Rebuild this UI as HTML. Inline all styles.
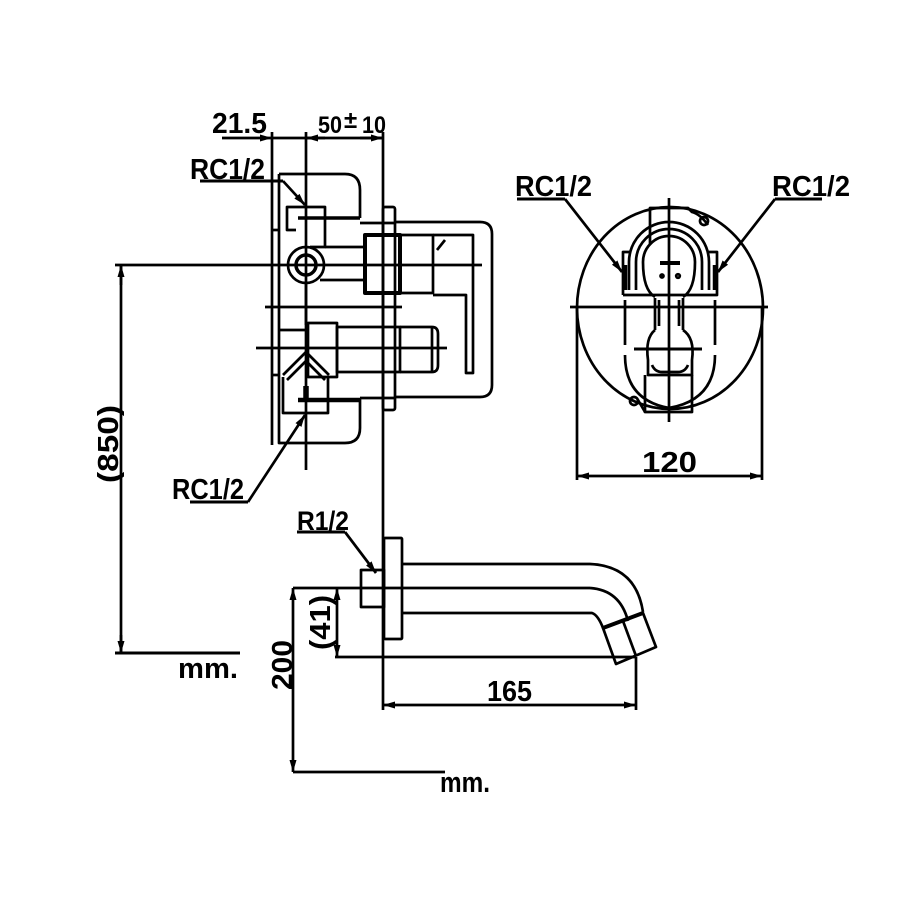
<!DOCTYPE html>
<html><head><meta charset="utf-8"><style>
html,body{margin:0;padding:0;background:#fff;}
svg{display:block;}
text{font-family:"Liberation Sans",sans-serif;font-weight:bold;fill:#000;}
</style></head><body>
<svg width="900" height="900" viewBox="0 0 900 900" xmlns="http://www.w3.org/2000/svg">
<defs>
<marker id="a" markerWidth="12" markerHeight="7" refX="12" refY="3.5" orient="auto" markerUnits="userSpaceOnUse"><path d="M0,0 L12,3.5 L0,7 Z" fill="#000"/></marker>
</defs>
<g fill="none" stroke="#000" stroke-width="2.7" stroke-linejoin="round">
<!-- top dims -->
<line x1="222" y1="138" x2="272" y2="138" marker-end="url(#a)"/>
<line x1="272" y1="138" x2="383" y2="138"/>
<line x1="325" y1="138" x2="306" y2="138" marker-end="url(#a)"/>
<line x1="360" y1="138" x2="383" y2="138" marker-end="url(#a)"/>
<line x1="272" y1="132" x2="272" y2="445"/>
<line x1="306" y1="132" x2="306" y2="470"/>
<line x1="383" y1="132" x2="383" y2="710"/>
<!-- RC1/2 top leader -->
<line x1="200" y1="181" x2="283" y2="181" stroke-width="3"/>
<line x1="283" y1="181" x2="305" y2="205" marker-end="url(#a)"/>
<!-- back body outline -->
<path d="M279 174 H345 Q360 174 360 190 V218"/>
<path d="M279 174 V443 H345 Q360 443 360 428 V398"/>
<line x1="272" y1="230" x2="279" y2="230"/>
<line x1="272" y1="375" x2="279" y2="375"/>
<!-- top port -->
<path d="M296 230 H287 V207 H325 V247 H310"/>
<line x1="298" y1="218" x2="360" y2="218" stroke-width="3.5"/>
<line x1="360" y1="223" x2="395" y2="223"/>
<line x1="325" y1="247" x2="363" y2="247"/>
<circle cx="306" cy="265" r="18"/>
<circle cx="306" cy="265" r="10" stroke-width="3.5"/>
<line x1="320" y1="280" x2="363" y2="280"/>
<line x1="306" y1="283" x2="306" y2="325"/>
<!-- flange -->
<rect x="383" y="207" width="12" height="203" rx="2"/>
<path d="M395 222 H480 Q492 222 492 234 V385 Q492 397 480 397 H395"/>
<!-- cartridge -->
<rect x="365" y="235" width="35" height="58" stroke-width="4"/>
<rect x="400" y="235" width="33" height="58"/>
<path d="M433 235 H473 V373 H466 V295 H433"/>
<line x1="437" y1="250" x2="445" y2="240"/>
<!-- axes -->
<line x1="115" y1="265" x2="482" y2="265"/>
<line x1="265" y1="307" x2="402" y2="307"/>
<line x1="256" y1="348" x2="447" y2="348"/>
<!-- lower part -->
<rect x="308" y="323" width="29" height="54"/>
<rect x="337" y="327" width="63" height="45"/>
<path d="M400 327 H432 Q438 327 438 334 V365 Q438 372 432 372 H400"/>
<line x1="432" y1="327" x2="432" y2="372"/>
<line x1="279" y1="330" x2="308" y2="330"/>
<path d="M283 375 L306 352 L329 375"/>
<path d="M287 380 L306 361 L325 380"/>
<path d="M283 377 V413 H328 V377"/>
<line x1="298" y1="400" x2="360" y2="400" stroke-width="4.5"/>
<line x1="306" y1="386" x2="306" y2="402" stroke-width="5.5"/>
<line x1="360" y1="398" x2="395" y2="398"/>
<!-- lower leader -->
<line x1="190" y1="502" x2="248" y2="502" stroke-width="3"/>
<line x1="248" y1="502" x2="305" y2="415" marker-end="url(#a)"/>
<!-- 850 dim -->
<line x1="121" y1="285" x2="121" y2="265" marker-end="url(#a)"/>
<line x1="121" y1="265" x2="121" y2="653"/>
<line x1="121" y1="635" x2="121" y2="653" marker-end="url(#a)"/>
<line x1="115" y1="653" x2="240" y2="653" stroke-width="3"/>
<!-- front view -->
<ellipse cx="670" cy="308" rx="93" ry="101"/>
<line x1="570" y1="307" x2="768" y2="307"/>
<line x1="669" y1="198" x2="669" y2="422"/>
<line x1="577" y1="308" x2="577" y2="480"/>
<line x1="762" y1="308" x2="762" y2="480"/>
<line x1="670" y1="476" x2="577" y2="476" marker-end="url(#a)"/>
<line x1="670" y1="476" x2="762" y2="476" marker-end="url(#a)"/>
<path d="M650 245 V208 H688 L692 212 Q700 214 708 225"/>
<circle cx="704" cy="221" r="4"/>
<circle cx="634" cy="401" r="4"/>
<path d="M623 295 V252 H630 M708 252 H717 V295 H623"/>
<path d="M629 290 V262 A40 40 0 0 1 709 262 V290"/>
<path d="M636 290 V262 A33 33 0 0 1 702 262 V290"/>
<path d="M655 297 Q643 290 643 262 A26 26 0 0 1 695 262 Q695 290 683 297"/>
<line x1="655" y1="298" x2="655" y2="330"/>
<line x1="683" y1="298" x2="683" y2="330"/>
<line x1="659" y1="300" x2="659" y2="326"/>
<line x1="679" y1="300" x2="679" y2="326"/>
<line x1="625" y1="300" x2="625" y2="345"/>
<line x1="715" y1="300" x2="715" y2="345"/>
<path d="M625 355 Q625 400 669 408 Q715 400 715 355"/>
<path d="M655 330 Q645 338 648 360 V375 H692 V360 Q695 338 683 330"/>
<path d="M652 365 Q655 372 662 372 H678 Q685 372 688 365"/>
<line x1="634" y1="349" x2="702" y2="349" stroke-width="3"/>
<path d="M645 375 V412 H692 V375"/>
<path d="M638 400 L645 412"/>
<line x1="625" y1="265" x2="625" y2="290" stroke-width="4.5"/>
<line x1="715" y1="265" x2="715" y2="290" stroke-width="4.5"/>
<line x1="660" y1="263" x2="680" y2="263" stroke-width="4"/>
<circle cx="662" cy="276" r="1.5"/>
<circle cx="678" cy="276" r="1.8"/>
<line x1="517" y1="199" x2="565" y2="199" stroke-width="3"/>
<line x1="565" y1="199" x2="622" y2="272" marker-end="url(#a)"/>
<line x1="775" y1="199" x2="822" y2="199" stroke-width="3"/>
<line x1="775" y1="199" x2="718" y2="272" marker-end="url(#a)"/>
<!-- spout -->
<rect x="384" y="538" width="18" height="101" rx="1"/>
<rect x="361" y="570" width="23" height="37"/>
<path d="M402 564 H590 Q636 566 643 612"/>
<line x1="293" y1="588" x2="590" y2="588"/>
<path d="M590 588 Q620 590 628 621"/>
<path d="M402 613 H592 Q598 615 603 628"/>
<path d="M603 628 L643 613 L656 647 L616 664 Z"/>
<line x1="623" y1="621" x2="636" y2="656"/>
<line x1="603" y1="628" x2="643" y2="613" stroke-width="4"/>
<line x1="297" y1="532" x2="345" y2="532" stroke-width="3"/>
<line x1="345" y1="532" x2="376" y2="573" marker-end="url(#a)"/>
<!-- 41 dim -->
<line x1="337" y1="620" x2="337" y2="588" marker-end="url(#a)"/>
<line x1="337" y1="620" x2="337" y2="657" marker-end="url(#a)"/>
<line x1="335" y1="657" x2="636" y2="657"/>
<!-- 200 dim -->
<line x1="293" y1="680" x2="293" y2="588" marker-end="url(#a)"/>
<line x1="293" y1="680" x2="293" y2="772" marker-end="url(#a)"/>
<line x1="293" y1="772" x2="445" y2="772"/>
<!-- 165 -->
<line x1="636" y1="657" x2="636" y2="710"/>
<line x1="510" y1="705" x2="383" y2="705" marker-end="url(#a)"/>
<line x1="510" y1="705" x2="636" y2="705" marker-end="url(#a)"/>
</g>
<g font-size="29">
<text x="212" y="133" textLength="55" lengthAdjust="spacingAndGlyphs">21.5</text>
<text x="318" y="133" font-size="24" textLength="24" lengthAdjust="spacingAndGlyphs">50</text>
<text x="344" y="128" font-size="24">±</text>
<text x="362" y="133" font-size="24" textLength="24" lengthAdjust="spacingAndGlyphs">10</text>
<text x="190" y="179" textLength="75" lengthAdjust="spacingAndGlyphs">RC1/2</text>
<text x="172" y="499" textLength="72" lengthAdjust="spacingAndGlyphs">RC1/2</text>
<text x="515" y="196" textLength="77" lengthAdjust="spacingAndGlyphs">RC1/2</text>
<text x="772" y="196" textLength="78" lengthAdjust="spacingAndGlyphs">RC1/2</text>
<text x="642" y="472" textLength="55" lengthAdjust="spacingAndGlyphs">120</text>
<text x="297" y="530" font-size="27" textLength="52" lengthAdjust="spacingAndGlyphs">R1/2</text>
<text x="487" y="701" textLength="45" lengthAdjust="spacingAndGlyphs">165</text>
<text x="178" y="678" textLength="60" lengthAdjust="spacingAndGlyphs">mm.</text>
<text x="440" y="792" textLength="50" lengthAdjust="spacingAndGlyphs">mm.</text>
<text transform="translate(118,483) rotate(-90)" textLength="78" lengthAdjust="spacingAndGlyphs">(850)</text>
<text transform="translate(292,690) rotate(-90)" textLength="50" lengthAdjust="spacingAndGlyphs">200</text>
<text transform="translate(330,650) rotate(-90)" textLength="55" lengthAdjust="spacingAndGlyphs">(41)</text>
</g>
</svg>
</body></html>
